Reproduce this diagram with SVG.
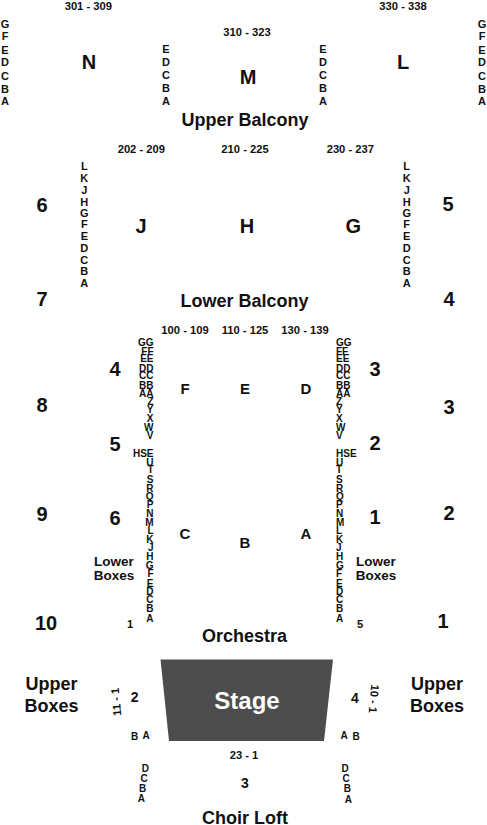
<svg xmlns="http://www.w3.org/2000/svg" width="487" height="825" viewBox="0 0 487 825">
<style>
text{font-family:"Liberation Sans",Arial,sans-serif;font-weight:700;fill:#111;text-anchor:middle}
.r{font-size:11px}
.o{font-size:10px}
.e{text-anchor:end}
.s{text-anchor:start}
.n{font-size:11.2px}
.z{font-size:20px}
.m{font-size:15px}
.h{font-size:18px}
.b{font-size:14px}
.l{font-size:13.5px}
</style>
<rect width="487" height="825" fill="#fff"/>
<g id="upper-balcony">
<text class="n" x="88.3" y="10">301 - 309</text><text class="n" x="247" y="36">310 - 323</text><text class="n" x="403" y="10">330 - 338</text>
<g class="r">
<text x="5" y="28">G</text><text x="5" y="40">F</text><text x="5" y="54">E</text><text x="5" y="66">D</text><text x="5" y="80">C</text><text x="5" y="93">B</text><text x="5" y="105">A</text>
<text x="166" y="53">E</text><text x="166" y="66">D</text><text x="166" y="79">C</text><text x="166" y="92">B</text><text x="166" y="105">A</text>
<text x="323" y="53">E</text><text x="323" y="66">D</text><text x="323" y="79">C</text><text x="323" y="92">B</text><text x="323" y="105">A</text>
<text x="482" y="28">G</text><text x="482" y="40">F</text><text x="482" y="54">E</text><text x="482" y="66">D</text><text x="482" y="80">C</text><text x="482" y="93">B</text><text x="482" y="105">A</text>
</g>
<text class="z" x="89" y="69">N</text><text class="z" x="248" y="84">M</text><text class="z" x="403" y="69">L</text>
<text class="h" x="245" y="126">Upper Balcony</text>
</g>
<g id="lower-balcony">
<text class="n" x="141.3" y="152.7">202 - 209</text><text class="n" x="245" y="152.7">210 - 225</text><text class="n" x="350.3" y="152.7">230 - 237</text>
<g class="r">
<text x="84.3" y="170">L</text><text x="84.3" y="181.7">K</text><text x="84.3" y="194">J</text><text x="84.3" y="205.7">H</text><text x="84.3" y="217">G</text><text x="84.3" y="228">F</text><text x="84.3" y="240">E</text><text x="84.3" y="252">D</text><text x="84.3" y="264">C</text><text x="84.3" y="275">B</text><text x="84.3" y="287">A</text>
<text x="406.7" y="170">L</text><text x="406.7" y="181.7">K</text><text x="406.7" y="194">J</text><text x="406.7" y="205.7">H</text><text x="406.7" y="217">G</text><text x="406.7" y="228">F</text><text x="406.7" y="240">E</text><text x="406.7" y="252">D</text><text x="406.7" y="264">C</text><text x="406.7" y="275">B</text><text x="406.7" y="287">A</text>
</g>
<text class="z" x="141" y="233">J</text><text class="z" x="247" y="233">H</text><text class="z" x="353.3" y="233">G</text>
<text class="z" x="42" y="212">6</text><text class="z" x="448" y="211">5</text><text class="z" x="42" y="305.7">7</text><text class="z" x="449" y="305.7">4</text>
<text class="h" x="244.5" y="307.3">Lower Balcony</text>
</g>
<g id="orchestra">
<text class="n" x="185" y="334">100 - 109</text><text class="n" x="245" y="334">110 - 125</text><text class="n" x="305" y="334">130 - 139</text>
<g class="o">
<text class="e" x="153.5" y="346">GG</text><text class="e" x="153.5" y="355">FF</text><text class="e" x="153.5" y="362">EE</text><text class="e" x="153.5" y="372">DD</text><text class="e" x="153.5" y="379">CC</text><text class="e" x="153.5" y="389">BB</text><text class="e" x="153.5" y="397">AA</text><text class="e" x="153.5" y="405">Z</text><text class="e" x="153.5" y="413">Y</text><text class="e" x="153.5" y="422">X</text><text class="e" x="153.5" y="431">W</text><text class="e" x="153.5" y="439">V</text>
<text class="e" x="153.5" y="457">HSE</text><text class="e" x="153.5" y="466">U</text><text class="e" x="153.5" y="473">T</text><text class="e" x="153.5" y="483">S</text><text class="e" x="153.5" y="492">R</text><text class="e" x="153.5" y="500">Q</text><text class="e" x="153.5" y="508">P</text><text class="e" x="153.5" y="517">N</text><text class="e" x="153.5" y="526">M</text><text class="e" x="153.5" y="534">L</text><text class="e" x="153.5" y="543">K</text><text class="e" x="153.5" y="551">J</text><text class="e" x="153.5" y="560">H</text><text class="e" x="153.5" y="569">G</text><text class="e" x="153.5" y="577">F</text><text class="e" x="153.5" y="587">E</text><text class="e" x="153.5" y="595">D</text><text class="e" x="153.5" y="603">C</text><text class="e" x="153.5" y="612">B</text><text class="e" x="153.5" y="622">A</text>
<text class="s" x="336" y="346">GG</text><text class="s" x="336" y="355">FF</text><text class="s" x="336" y="362">EE</text><text class="s" x="336" y="372">DD</text><text class="s" x="336" y="379">CC</text><text class="s" x="336" y="389">BB</text><text class="s" x="336" y="397">AA</text><text class="s" x="336" y="405">Z</text><text class="s" x="336" y="413">Y</text><text class="s" x="336" y="422">X</text><text class="s" x="336" y="431">W</text><text class="s" x="336" y="439">V</text>
<text class="s" x="336" y="457">HSE</text><text class="s" x="336" y="466">U</text><text class="s" x="336" y="473">T</text><text class="s" x="336" y="483">S</text><text class="s" x="336" y="492">R</text><text class="s" x="336" y="500">Q</text><text class="s" x="336" y="508">P</text><text class="s" x="336" y="517">N</text><text class="s" x="336" y="526">M</text><text class="s" x="336" y="534">L</text><text class="s" x="336" y="543">K</text><text class="s" x="336" y="551">J</text><text class="s" x="336" y="560">H</text><text class="s" x="336" y="569">G</text><text class="s" x="336" y="577">F</text><text class="s" x="336" y="587">E</text><text class="s" x="336" y="595">D</text><text class="s" x="336" y="603">C</text><text class="s" x="336" y="612">B</text><text class="s" x="336" y="622">A</text>
</g>
<text class="m" x="185" y="394">F</text><text class="m" x="245" y="394">E</text><text class="m" x="306" y="394">D</text>
<text class="m" x="185" y="539">C</text><text class="m" x="245" y="548">B</text><text class="m" x="306" y="539">A</text>
<text class="z" x="115" y="376">4</text><text class="z" x="115" y="451">5</text><text class="z" x="115" y="525">6</text>
<text class="z" x="375" y="376">3</text><text class="z" x="375" y="450">2</text><text class="z" x="375" y="524">1</text>
<text class="z" x="42" y="412">8</text><text class="z" x="449" y="414">3</text><text class="z" x="42" y="521">9</text><text class="z" x="449" y="520">2</text><text class="z" x="46" y="630">10</text><text class="z" x="443" y="628">1</text>
<text class="l" x="114" y="566">Lower</text><text class="l" x="114" y="580">Boxes</text>
<text class="l" x="376" y="566">Lower</text><text class="l" x="376" y="580">Boxes</text>
<text class="n" x="130" y="628">1</text><text class="n" x="360" y="628">5</text>
<text class="h" x="244.5" y="642">Orchestra</text>
</g>
<g id="stage">
<polygon points="160.5,659.5 333,659.5 324,741 169,741" fill="#4d4d4d"/>
<text x="247" y="709" style="font-size:24px;fill:#fff">Stage</text>
</g>
<g id="upper-boxes">
<text class="h" x="51.5" y="690">Upper</text><text class="h" x="51.5" y="711.5">Boxes</text>
<text class="h" x="437" y="690">Upper</text><text class="h" x="437" y="711.5">Boxes</text>
<text class="n" transform="translate(120,701.5) rotate(-95)" x="0" y="0">11 - 1</text>
<text class="n" transform="translate(370,698.5) rotate(95)" x="0" y="0">10 - 1</text>
<text class="b" x="134.7" y="702">2</text><text class="b" x="355" y="703">4</text>
<text class="o" x="134.7" y="740">B</text><text class="o" x="146" y="738.7">A</text><text class="o" x="344" y="738.7">A</text><text class="o" x="356" y="740">B</text>
</g>
<g id="choir-loft">
<text class="n" x="244" y="759">23 - 1</text><text class="b" x="245" y="788">3</text>
<g class="o"><text x="145.3" y="772">D</text><text x="144" y="782">C</text><text x="142.7" y="792">B</text><text x="141.3" y="802">A</text>
<text x="345" y="772">D</text><text x="346" y="782">C</text><text x="347.3" y="792">B</text><text x="348.3" y="802.5">A</text></g>
<text class="h" x="245" y="823.5">Choir Loft</text>
</g>
</svg>
